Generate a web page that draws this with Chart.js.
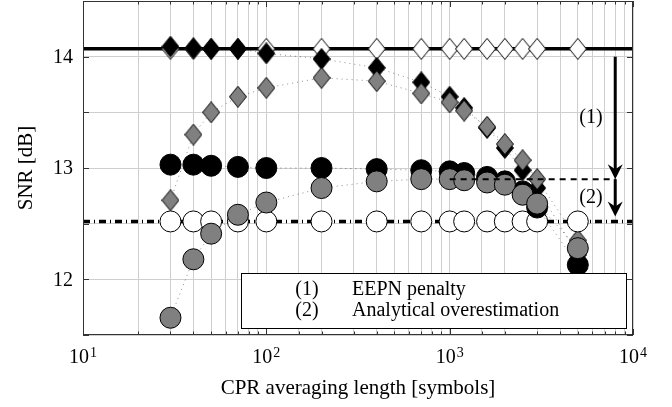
<!DOCTYPE html>
<html>
<head>
<meta charset="utf-8">
<script src="https://cdn.jsdelivr.net/npm/chart.js@4"></script>
<style>
  html, body { margin: 0; padding: 0; background: #fff; }
  #wrap { width: 672px; height: 407px; }
</style>
</head>
<body>
<div id="wrap"><canvas id="chart"></canvas></div>
<script>
"use strict";

// CPR averaging lengths (symbols)
const lengths = [30, 40, 50, 70, 100, 200, 400, 700, 1000, 1200, 1600, 2000, 2500, 3000, 5000];

// SNR values [dB]
const blackDiamonds = [14.09, 14.075, 14.07, 14.07, 14.03, 13.98, 13.90, 13.77, 13.64, 13.54, 13.36, 13.18, 12.98, 12.82, 12.22];
const grayDiamonds  = [12.71, 13.30, 13.50, 13.64, 13.72, 13.81, 13.78, 13.67, 13.59, 13.515, 13.37, 13.215, 13.07, 12.90, 12.35];
const whiteDiamonds = [14.07, 14.07, 14.07, 14.07, 14.07, 14.07, 14.07, 14.07, 14.07, 14.07, 14.07, 14.07, 14.07, 14.07, 14.07];
const blackCircles  = [13.03, 13.03, 13.02, 13.01, 13.00, 13.00, 12.99, 12.98, 12.97, 12.955, 12.92, 12.88, 12.79, 12.645, 12.13];
const grayCircles   = [11.655, 12.18, 12.41, 12.58, 12.69, 12.82, 12.88, 12.90, 12.90, 12.89, 12.87, 12.85, 12.76, 12.68, 12.28];
const whiteCircles  = [12.52, 12.52, 12.52, 12.52, 12.52, 12.52, 12.52, 12.52, 12.52, 12.52, 12.52, 12.52, 12.52, 12.52, 12.52];

// horizontal reference levels
const lineEnds = [10, 10000];
const upperLevel = [14.07, 14.07];
const lowerLevel = [12.52, 12.52];

// annotations
const penaltyLevel = 12.9;
const penaltyFrom = 1000;
const arrowX = 8000;
const arrowTop = 14.0;
const labelX = 5900;
const label1Y = 13.45;
const label2Y = 12.73;
const legendRows = [["(1)", "EEPN penalty"], ["(2)", "Analytical overestimation"]];

const yTickLabels = [12, 13, 14];

const SERIF = "'Liberation Serif', 'Times New Roman', serif";

// diamond marker, a bit taller than wide
const makeDiamond = fill => {
    const c = document.createElement("canvas");
    c.width = 18;
    c.height = 22;
    const g = c.getContext("2d");
    g.beginPath();
    g.moveTo(9, 0.5);
    g.lineTo(17.5, 11);
    g.lineTo(9, 21.5);
    g.lineTo(0.5, 11);
    g.closePath();
    g.fillStyle = fill;
    g.fill();
    g.strokeStyle = "#000";
    g.lineWidth = 1;
    g.stroke();
    return c;
};

const toPoints = ys => ys.map((y, i) => ({ x: lengths[i], y: y }));

const markerSet = (data, shape, fill, dotted) => ({
    data: toPoints(data),
    showLine: dotted,
    borderColor: "rgba(0,0,0,0.45)",
    borderWidth: 1,
    borderDash: [1, 4],
    pointStyle: shape === "circle" ? "circle" : makeDiamond(fill),
    pointRadius: 10.5,
    pointBackgroundColor: fill,
    pointBorderColor: "#000",
    pointBorderWidth: 1
});

const levelLine = (data, dash) => ({
    data: data.map((y, i) => ({ x: lineEnds[i], y: y })),
    showLine: true,
    borderColor: "#000",
    borderWidth: 3.5,
    borderDash: dash,
    pointRadius: 0
});

const arrow = (ctx, x, y0, y1) => {
    ctx.save();
    ctx.strokeStyle = "#000";
    ctx.fillStyle = "#000";
    ctx.lineWidth = 3;
    ctx.setLineDash([]);
    ctx.beginPath();
    ctx.moveTo(x, y0);
    ctx.lineTo(x, y1 - 9);
    ctx.stroke();
    ctx.beginPath();
    ctx.moveTo(x, y1);
    ctx.lineTo(x - 7.5, y1 - 15);
    ctx.lineTo(x, y1 - 10);
    ctx.lineTo(x + 7.5, y1 - 15);
    ctx.closePath();
    ctx.fill();
    ctx.restore();
};

const extras = {
    id: "extras",
    afterDatasetsDraw(chart) {
        const ctx = chart.ctx;
        const xs = chart.scales.x, ys = chart.scales.y;
        const a = chart.chartArea;

        // dashed level + arrows
        const yp = ys.getPixelForValue(penaltyLevel);
        const ax = xs.getPixelForValue(arrowX);
        ctx.save();
        ctx.strokeStyle = "#000";
        ctx.lineWidth = 2;
        ctx.setLineDash([6, 5]);
        ctx.beginPath();
        ctx.moveTo(xs.getPixelForValue(penaltyFrom), yp);
        ctx.lineTo(ax, yp);
        ctx.stroke();
        ctx.restore();
        arrow(ctx, ax, ys.getPixelForValue(arrowTop), yp);
        arrow(ctx, ax, yp, ys.getPixelForValue(lowerLevel[0]) - 5);

        ctx.save();
        ctx.font = "20px " + SERIF;
        ctx.fillStyle = "#000";
        ctx.textAlign = "center";
        ctx.textBaseline = "middle";
        ctx.fillText("(1)", xs.getPixelForValue(labelX), ys.getPixelForValue(label1Y));
        ctx.fillText("(2)", xs.getPixelForValue(labelX), ys.getPixelForValue(label2Y));
        ctx.restore();

        // frame and inward ticks
        ctx.save();
        ctx.strokeStyle = "#333";
        ctx.lineWidth = 1;
        ctx.strokeRect(a.left + 0.5, a.top + 0.5, a.right - a.left - 1, a.bottom - a.top - 1);
        ctx.beginPath();
        xs.ticks.forEach(t => {
            const px = Math.round(xs.getPixelForValue(t.value)) + 0.5;
            const len = Number.isInteger(Math.log10(t.value)) ? 6 : 3.5;
            ctx.moveTo(px, a.bottom); ctx.lineTo(px, a.bottom - len);
            ctx.moveTo(px, a.top); ctx.lineTo(px, a.top + len);
        });
        ys.ticks.forEach(t => {
            const py = Math.round(ys.getPixelForValue(t.value)) + 0.5;
            ctx.moveTo(a.left, py); ctx.lineTo(a.left + 6, py);
            ctx.moveTo(a.right, py); ctx.lineTo(a.right - 6, py);
        });
        ctx.stroke();
        ctx.restore();

        // legend box
        const w = 386, h = 56;
        const left = a.right - 6 - w, top = a.bottom - 6 - h;
        ctx.save();
        ctx.fillStyle = "#fff";
        ctx.fillRect(left, top, w, h);
        ctx.strokeStyle = "#000";
        ctx.lineWidth = 1;
        ctx.strokeRect(left + 0.5, top + 0.5, w - 1, h - 1);
        ctx.font = "20px " + SERIF;
        ctx.fillStyle = "#000";
        ctx.textBaseline = "middle";
        legendRows.forEach((row, i) => {
            const y = top + 17 + i * 21;
            ctx.textAlign = "center";
            ctx.fillText(row[0], left + 66, y);
            ctx.textAlign = "left";
            ctx.fillText(row[1], left + 111, y);
        });
        ctx.restore();

        // y tick labels
        ctx.save();
        ctx.fillStyle = "#000";
        ctx.font = "20px " + SERIF;
        ctx.textAlign = "right";
        ctx.textBaseline = "middle";
        yTickLabels.forEach(v => {
            ctx.fillText(String(v), a.left - 10, ys.getPixelForValue(v) + 1);
        });
        ctx.restore();

        // x tick labels 10^n
        ctx.save();
        ctx.fillStyle = "#000";
        ctx.textBaseline = "alphabetic";
        ctx.textAlign = "left";
        xs.ticks.forEach(t => {
            const e = Math.log10(t.value);
            if (!Number.isInteger(e)) return;
            ctx.font = "20px " + SERIF;
            const wb = ctx.measureText("10").width;
            ctx.font = "14px " + SERIF;
            const we = ctx.measureText(String(e)).width;
            const x0 = xs.getPixelForValue(t.value) - (wb + we + 1) / 2;
            const base = a.bottom + 28;
            ctx.font = "20px " + SERIF;
            ctx.fillText("10", x0, base);
            ctx.font = "14px " + SERIF;
            ctx.fillText(String(e), x0 + wb + 1, base - 6);
        });
        ctx.restore();
    }
};

new Chart(document.getElementById("chart"), {
    type: "scatter",
    data: {
        datasets: [
            markerSet(grayCircles, "circle", "#808080", true),
            markerSet(blackCircles, "circle", "#000", true),
            markerSet(whiteCircles, "circle", "#fff", false),
            markerSet(grayDiamonds, "diamond", "#808080", true),
            markerSet(blackDiamonds, "diamond", "#000", true),
            markerSet(whiteDiamonds, "diamond", "#fff", false),
            levelLine(lowerLevel, [7, 4, 1, 4]),
            levelLine(upperLevel, [])
        ]
    },
    options: {
        responsive: true,
        maintainAspectRatio: false,
        animation: false,
        events: [],
        layout: { autoPadding: false, padding: { top: 1, right: 39, left: 0, bottom: 0 } },
        plugins: {
            legend: { display: false },
            tooltip: { enabled: false }
        },
        scales: {
            x: {
                type: "logarithmic",
                min: 10,
                max: 10000,
                ticks: { display: false },
                grid: { color: "#cfcfcf", lineWidth: 1, drawTicks: false },
                border: { display: false },
                title: {
                    display: true,
                    text: "CPR averaging length [symbols]",
                    color: "#000",
                    font: { family: SERIF, size: 21 },
                    padding: { top: 0, bottom: 6 }
                },
                afterFit: s => { s.height = 72; }
            },
            y: {
                min: 11.5,
                max: 14.5,
                ticks: { display: false, stepSize: 0.5 },
                grid: { color: "#cfcfcf", lineWidth: 1, drawTicks: false },
                border: { display: false },
                title: {
                    display: true,
                    text: "SNR [dB]",
                    color: "#000",
                    font: { family: SERIF, size: 21 },
                    padding: { top: 14, bottom: 0 }
                },
                afterFit: s => { s.width = 83; }
            }
        }
    },
    plugins: [extras]
});
</script>
</body>
</html>
